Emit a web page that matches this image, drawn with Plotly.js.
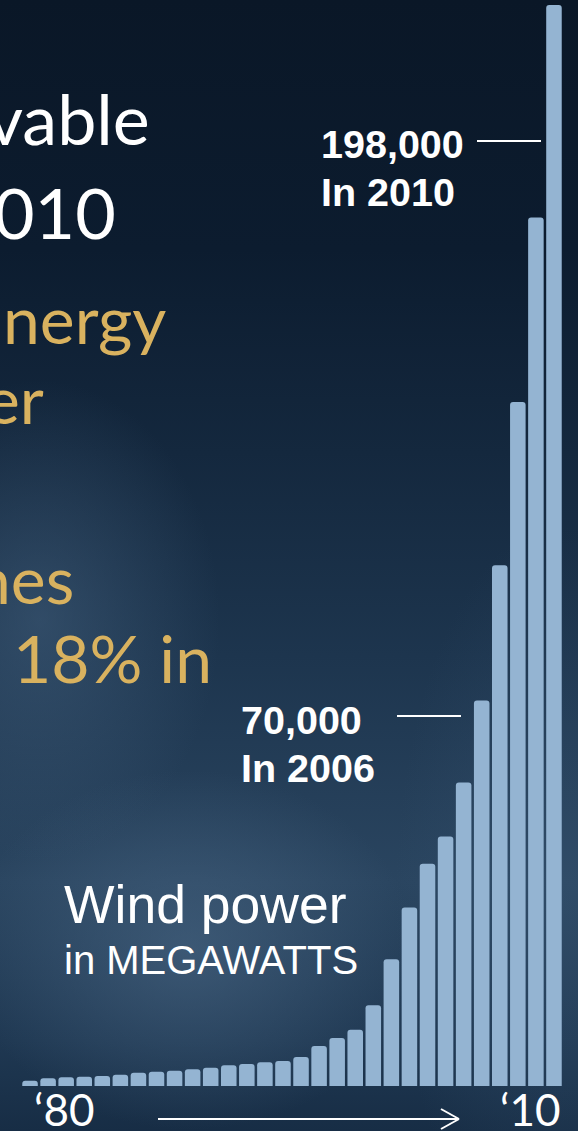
<!DOCTYPE html>
<html>
<head>
<meta charset="utf-8">
<script src="https://cdn.plot.ly/plotly-3.0.1.min.js"></script>
<style>
  html, body { margin:0; padding:0; width:578px; height:1131px; overflow:hidden; }
  #bg {
    position:absolute; left:0; top:0; width:578px; height:1131px;
    background:
      radial-gradient(ellipse 300px 240px at 190px 950px, rgba(78,108,138,0.55), rgba(78,108,138,0) 75%),
      radial-gradient(ellipse 240px 320px at 40px 620px, rgba(70,100,130,0.5), rgba(70,100,130,0) 75%),
      radial-gradient(ellipse 220px 500px at 560px 900px, rgba(60,90,120,0.35), rgba(60,90,120,0) 75%),
      linear-gradient(180deg, #0a1727 0%, #0c1c2f 22%, #14283e 40%, #1d354e 58%, #2a4560 78%, #1f3852 92%, #172d45 100%);
  }
  #chart { position:absolute; left:0; top:0; width:578px; height:1131px; }
</style>
</head>
<body>
<div id="bg"></div>
<div id="chart"></div>
<script>
// ---- data ----
const years = [1981,1982,1983,1984,1985,1986,1987,1988,1989,1990,
               1991,1992,1993,1994,1995,1996,1997,1998,1999,2000,
               2001,2002,2003,2004,2005,2006,2007,2008,2009,2010];
const capacityMW = [970,1410,1590,1700,1830,2070,2440,2620,2800,3060,
                    3350,3790,4030,4340,4580,5310,7330,8790,10300,14800,
                    23200,32700,40700,45700,55600,70600,95400,125300,159100,198000];
const callouts = [
  {value: "198,000", year: "In 2010"},
  {value: "70,000",  year: "In 2006"}
];
const unitTitle = "Wind power";
const unitSub = "in MEGAWATTS";
const startLabel = "\u201880";
const endLabel = "\u201810";
const sideWhite = ["vable", "010"];
const sideGold = ["nergy", "er", "nes", "18% in"];

// ---- layout helpers (pixel -> paper) ----
const W = 578, H = 1131;
const M = {l:21, r:15, t:5, b:45};
const PW = W - M.l - M.r, PH = H - M.t - M.b;
const X = px => (px - M.l) / PW;
const Y = py => (H - M.b - py) / PH;

const white = '#ffffff', gold = '#d9b25f';
const bold = 'Liberation Sans, Arial, sans-serif';
const cal = 'Lato, Open Sans, sans-serif';

function ann(text, px, py, size, family, color, xanchor, weight) {
  return {text: text, xref:'paper', yref:'paper', x:X(px), y:Y(py),
    xanchor: xanchor, yanchor:'middle', showarrow:false, borderpad:0,
    font:{size:size, family:family, color:color, weight: weight || 400}};
}

const annotations = [
  ann(callouts[0].value, 320, 144, 39.5, bold, white, 'left', 700),
  ann(callouts[0].year, 320, 192, 39.5, bold, white, 'left', 700),
  ann(callouts[1].value, 240, 720, 39.5, bold, white, 'left', 700),
  ann(callouts[1].year, 240, 768, 39.5, bold, white, 'left', 700),
  ann(unitTitle, 63, 904, 53.5, bold, white, 'left'),
  ann(unitSub, 63, 960, 40, bold, white, 'left'),
  ann(sideWhite[0], 151, 118, 70, cal, white, 'right'),
  ann(sideWhite[1], 117, 212, 70, cal, white, 'right'),
  ann(sideGold[0], 167, 318, 66, cal, gold, 'right'),
  ann(sideGold[1], 45, 398, 66, cal, gold, 'right'),
  ann(sideGold[2], 75, 578, 66, cal, gold, 'right'),
  ann(sideGold[3], 213, 657, 66, cal, gold, 'right'),
  ann(startLabel, 33, 1109, 44, cal, white, 'left'),
  ann(endLabel, 561, 1109, 44, cal, white, 'right')
];

function seg(x0, y0, x1, y1, w) {
  return {type:'line', xref:'paper', yref:'paper', x0:X(x0), y0:Y(y0), x1:X(x1), y1:Y(y1),
    line:{color:white, width:w}};
}
const shapes = [
  seg(477, 141, 541, 141, 2),
  seg(397, 716, 461, 716, 2),
  seg(158, 1119, 459, 1119, 2),
  seg(441, 1109, 459, 1119, 2),
  seg(441, 1129, 459, 1119, 2)
];

const trace = {
  type:'bar', x: years, y: capacityMW,
  marker:{color:'#94b4d2', cornerradius:3, line:{width:0}},
  hoverinfo:'x+y'
};

const layout = {
  width:W, height:H,
  margin:M,
  paper_bgcolor:'rgba(0,0,0,0)', plot_bgcolor:'rgba(0,0,0,0)',
  bargap:0.14,
  showlegend:false,
  xaxis:{visible:false, range:[1980.5, 2010.5], fixedrange:true},
  yaxis:{visible:false, range:[0, 198000], fixedrange:true},
  annotations: annotations,
  shapes: shapes
};

Plotly.newPlot('chart', [trace], layout, {displayModeBar:false, staticPlot:true});
</script>
</body>
</html>
